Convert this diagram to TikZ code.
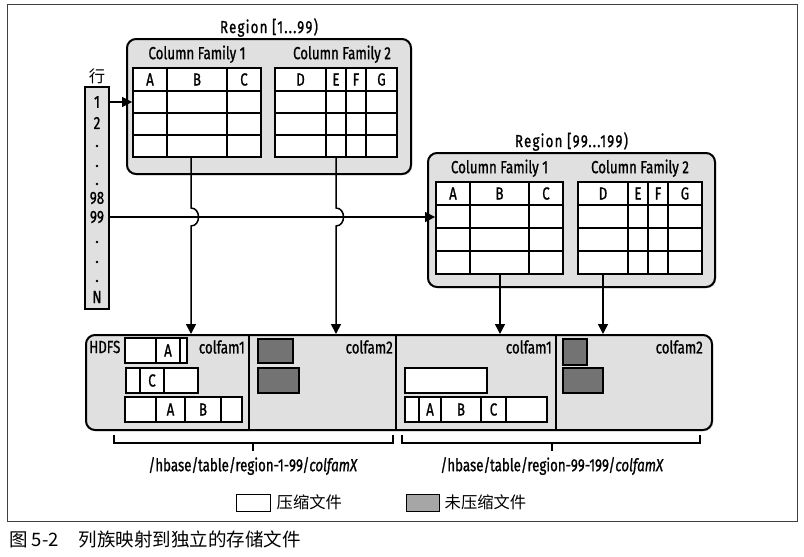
\documentclass[tikz,border=0pt]{standalone}
\usepackage{fontspec}
\usepackage{tikz}
\usetikzlibrary{arrows.meta,positioning,shadows}
\newfontfamily\cond[FakeStretch=0.76,FakeBold=1]{Fira Sans}
\newfontfamily\cjk{Noto Sans CJK SC}
\tikzset{
    %Define standard arrow tip
    >={Triangle[length=10pt,width=10pt]},
    %Define style for boxes
    region/.style={
           rectangle,
           rounded corners=9pt,
           draw=black, line width=2pt,
           fill=black!12,
           drop shadow={shadow xshift=1.2pt,shadow yshift=-1.2pt,fill=black!35},
           inner sep=0pt},
    rowbar/.style={
           rectangle,
           draw=black, line width=2pt,
           fill=black!12,
           drop shadow={shadow xshift=1.2pt,shadow yshift=-1.2pt,fill=black!35},
           inner sep=0pt},
    famtable/.style={
           rectangle,
           draw=black, line width=1.8pt,
           fill=white,
           inner sep=0pt},
    tabline/.style={line width=1.8pt},
    packed/.style={draw=black, line width=1.1pt, fill=white},
    loose/.style={draw=black, line width=1.1pt, fill=black!55},
    % Define text styles
    lbl/.style={font=\cond\fontsize{17.5}{19}\selectfont, inner sep=1pt},
    title/.style={font=\cond\fontsize{17.5}{19}\selectfont\addfontfeatures{LetterSpace=7}, inner sep=1pt},
    han/.style={font=\cjk\fontsize{16.3}{19}\selectfont, inner sep=1pt},
    dot/.style={circle, fill=black, inner sep=0pt, minimum size=2.8pt},
    % Define arrow style
    pil/.style={->, line width=1.5pt},
    brk/.style={line width=1.1pt}
}
\begin{document}
\begin{tikzpicture}[x=1pt,y=-1pt,node distance=4pt]
\useasboundingbox (0,0) rectangle (804,557);
\draw[line width=1pt, black!75] (7,4) rectangle (797,521);
 %regions
\node[region, minimum width=284pt, minimum height=135pt](r1) at (269,106.5){};
\node[title, above=0pt of r1](r1t){Region [1...99)};
\node[region, minimum width=287pt, minimum height=134pt](r2) at (571.5,220){};
\node[title, above=0pt of r2](r2t){Region [99...199)};
 %tables
\node[famtable, minimum width=128pt, minimum height=89pt](t1) at (197,112.5){};
\node[famtable, minimum width=122pt, minimum height=89pt](t2) at (336,112.5){};
\node[famtable, minimum width=127pt, minimum height=92pt](t3) at (499.5,228){};
\node[famtable, minimum width=124pt, minimum height=92pt](t4) at (640,228){};
\node[lbl, above=3pt of t1](f1){Column Family 1};
\node[lbl, above=3pt of t2, xshift=6pt](f2){Column Family 2};
\node[lbl, above=3pt of t3](f3){Column Family 1};
\node[lbl, above=3pt of t4](f4){Column Family 2};
\foreach \y in {91,113,135} \draw[tabline] (133,\y) -- (397,\y);
\draw[fill=black!12, draw=none] (262,67) rectangle (274,158);
\foreach \x in {167,227,326,346,366} \draw[tabline] (\x,68) -- (\x,157);
\foreach \y in {205,228,251} \draw[tabline] (436,\y) -- (702,\y);
\draw[fill=black!12, draw=none] (564,181) rectangle (577,275);
\foreach \x in {470,529,628,648,668} \draw[tabline] (\x,182) -- (\x,274);
\draw[famtable, fill=none] (133,68) rectangle (261,157) (275,68) rectangle (397,157)
  (436,182) rectangle (563,274) (578,182) rectangle (702,274);
\foreach \x/\c in {150/A,197/B,244/C,300.5/D,336/E,356/F,381.5/G}
  \node[lbl](h1\c) at (\x,79.5){\c};
\foreach \x/\c in {453/A,499.5/B,546/C,603/D,638/E,658/F,685/G}
  \node[lbl](h3\c) at (\x,193.5){\c};
 %rows
\node[rowbar, minimum width=24pt, minimum height=222pt](rows) at (97,198){};
\node[han, above=1pt of rows](hang){行};
\foreach \y/\t/\n in {102/1/n1,123/2/n2,198/98/n98,217/99/n99,297/N/nN}
  \node[lbl](\n) at (97,\y){\t};
\foreach \y in {146,166,184,242,262,281} \node[dot](d\y) at (97,\y){};
 %hdfs
\node[region, minimum width=626pt, minimum height=95pt](hdfs) at (399,382.5){};
\foreach \x in {249,396,556} \draw[tabline] (\x,335) -- (\x,430);
\node[lbl, anchor=west](hd) at (88,347){HDFS};
\foreach \x/\t in {246/colfam1,394/colfam2,553/colfam1,704/colfam2}
  \node[lbl, anchor=east](cf\x) at (\x,347){\t};
\foreach \a/\b/\t in {125/156/{},156/180/A,180/187/{}}
  {\draw[packed] (\a,338) rectangle (\b,363); \node[lbl](s\a) at ({(\a+\b)/2},350.5){\t};}
\foreach \a/\b/\t in {126/140/{},140/164/C,164/198/{},405/487/{}}
  {\draw[packed] (\a,368) rectangle (\b,393); \node[lbl](u\a) at ({(\a+\b)/2},380.5){\t};}
\foreach \a/\b/\t in {125/156/{},156/185/A,185/221/B,221/242/{},405/419/{},419/441/A,441/481/B,481/506/C,506/547/{}}
  {\draw[packed] (\a,397) rectangle (\b,422); \node[lbl](w\a) at ({(\a+\b)/2},409.5){\t};}
\draw[loose] (258,339) rectangle (293,363) (258,368) rectangle (299,393)
  (563,339) rectangle (587,365) (563,368) rectangle (603,393);
 %connectors
\coordinate (c1) at (191,157);
\coordinate (c2) at (336,157);
\coordinate (c3) at (500,274);
\coordinate (c4) at (603,274);
\draw[pil] (n1 -| rows.east) -- (n1 -| t1.west);
\draw[pil] (n99 -| rows.east) -- (n99 -| t3.west);
\draw[pil] (c1) -- ++(0,51) .. controls +(10,0) and +(10,0) .. ++(0,18) -- (c1 |- hdfs.north);
\draw[pil] (c2) -- ++(0,51) .. controls +(10,0) and +(10,0) .. ++(0,18) -- (c2 |- hdfs.north);
\draw[pil] (c3) -- (c3 |- hdfs.north);
\draw[pil] (c4) -- (c4 |- hdfs.north);
 %paths
\draw[brk] (114,435) |- (393,443) -- (393,435) (253,443) -- (253,451);
\draw[brk] (402,435) |- (700,443) -- (700,435) (552,443) -- (552,451);
\node[lbl](p1) at (253,466){/hbase/table/region-1-99/\textit{colfamX}};
\node[lbl](p2) at (552,466){/hbase/table/region-99-199/\textit{colfamX}};
 %legend
\node[rectangle, draw=black, line width=1pt, fill=white, minimum width=34pt, minimum height=17pt](lw) at (253,502.5){};
\node[han, right=5pt of lw](lwt){压缩文件};
\node[rectangle, draw=black, line width=1pt, fill=black!35, minimum width=33pt, minimum height=17pt](lg) at (422.5,502.5){};
\node[han, right=4pt of lg](lgt){未压缩文件};
\node[han, font=\cjk\fontsize{18.5}{21}\selectfont, anchor=west](cap) at (8,539){图 5-2\hspace{20pt}列族映射到独立的存储文件};
\end{tikzpicture}
\end{document}
